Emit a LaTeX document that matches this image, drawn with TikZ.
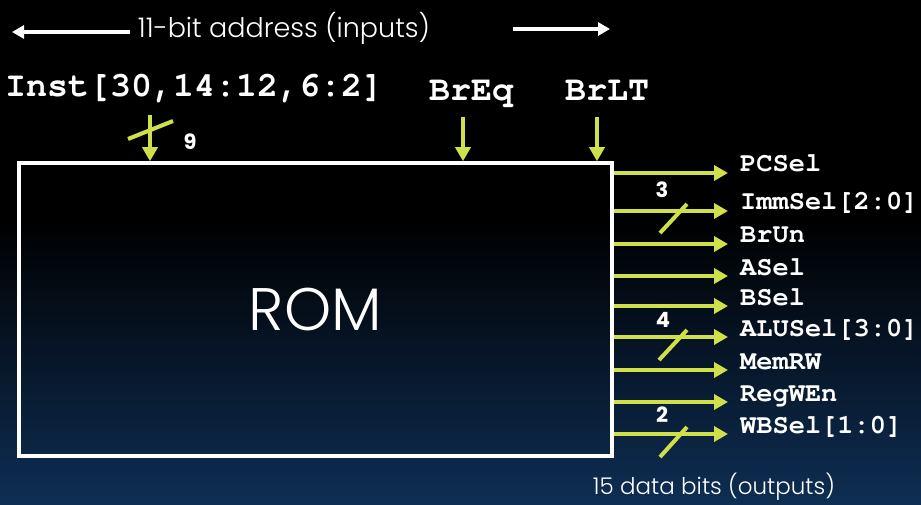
\documentclass[tikz,border=0pt]{standalone}
\usepackage{fontspec}
\setsansfont{Poppins}
\setmonofont{TeX Gyre Cursor}
\newfontfamily\lightsans{Poppins Light}
\usetikzlibrary{arrows.meta}

\definecolor{ctrl}{RGB}{208,224,74}
\definecolor{deepblue}{RGB}{14,46,84}

\begin{document}
\begin{tikzpicture}[x=1pt, y=-1pt,
    sig/.style={draw=ctrl,line width=4pt,-{Triangle[length=14pt,width=15pt]}},
    busmark/.style={draw=ctrl,line width=4pt},
    hint/.style={draw=white,line width=4pt,-{Triangle[length=12pt,width=13pt]}},
    port/.style={text=white,inner sep=0pt,anchor=base west,font=\ttfamily\bfseries\fontsize{27}{27}\selectfont},
    in port/.style={text=white,inner sep=0pt,font=\ttfamily\bfseries\fontsize{35}{35}\selectfont},
    bus num/.style={text=white,inner sep=0pt,font=\sffamily\bfseries\fontsize{21}{21}\selectfont},
    note/.style={text=white,inner sep=0pt,font=\lightsans\fontsize{27}{27}\selectfont}]

  \useasboundingbox (0,0) rectangle (921,505);
  \fill[black] (0,0) rectangle (921,505);
  \shade[top color=black,bottom color=deepblue] (0,220) rectangle (921,505);

  % the ROM block
  \node[draw=white,line width=3.5pt,minimum width=593pt,minimum height=293pt,
        text=white,font=\lightsans\fontsize{60}{60}\selectfont] (rom) at (315.5,309.5) {ROM};

  % address inputs
  \node[note] (addr) at (284,28) {11-bit address (inputs)};
  \node[in port,anchor=base west] (inst) at (5,97) {Inst[30,14:12,6:2]};
  \node[in port,anchor=base] (breq) at (471,101) {BrEq};
  \node[in port,anchor=base] (brlt) at (607,101) {BrLT};
  \coordinate (instin) at (150,115);
  \coordinate (breqin) at (463,117);
  \coordinate (brltin) at (597,117);
  \node[bus num] (nine) at (190,142) {9};

  % data outputs
  \coordinate (pcselend)  at (728,173);
  \coordinate (immselend) at (728,211);
  \coordinate (brunend)   at (728,244);
  \coordinate (aselend)   at (728,276);
  \coordinate (bselend)   at (728,306);
  \coordinate (aluselend) at (728,337);
  \coordinate (memrwend)  at (728,370);
  \coordinate (regwenend) at (728,402);
  \coordinate (wbselend)  at (728,434);

  \node[port] (pcsel)  at ([shift={(12,-1)}]pcselend)  {PCSel};
  \node[port] (immsel) at ([shift={(12,-1)}]immselend) {ImmSel[2:0]};
  \node[port] (brun)   at ([shift={(12,-1)}]brunend)   {BrUn};
  \node[port] (asel)   at ([shift={(12,-1)}]aselend)   {ASel};
  \node[port] (bsel)   at ([shift={(12,-1)}]bselend)   {BSel};
  \node[port] (alusel) at ([shift={(12,-1)}]aluselend) {ALUSel[3:0]};
  \node[port] (memrw)  at ([shift={(12,-1)}]memrwend)  {MemRW};
  \node[port] (regwen) at ([shift={(12,-1)}]regwenend) {RegWEn};
  \node[port] (wbsel)  at ([shift={(12,-1)}]wbselend)  {WBSel[1:0]};

  \node[bus num] (three) at (662,190) {3};
  \node[bus num] (four)  at (663,320) {4};
  \node[bus num] (two)   at (662,415) {2};
  \node[note,font=\lightsans\fontsize{23}{23}\selectfont] (data) at (714,487) {15 data bits (outputs)};

  % white hints along the top
  \draw[hint] (130,32) -- (12,32);
  \draw[hint] (513,29) -- (610,29);

  \path
    (instin) edge[sig] (instin |- rom.north)
    (breqin) edge[sig] (breqin |- rom.north)
    (brltin) edge[sig] (brltin |- rom.north)

    (pcselend -| rom.east)  edge[sig] (pcselend)
    (immselend -| rom.east) edge[sig] (immselend)
    (brunend -| rom.east)   edge[sig] (brunend)
    (aselend -| rom.east)   edge[sig] (aselend)
    (bselend -| rom.east)   edge[sig] (bselend)
    (aluselend -| rom.east) edge[sig] (aluselend)
    (memrwend -| rom.east)  edge[sig] (memrwend)
    (regwenend -| rom.east) edge[sig] (regwenend)
    (wbselend -| rom.east)  edge[sig] (wbselend)
  ;

  % bus width marks
  \draw[busmark] (128,139) -- (173,121);
  \draw[busmark] (660,233) -- (687,204);
  \draw[busmark] (659,360) -- (687,330);
  \draw[busmark] (660,457) -- (687,427);

\end{tikzpicture}
\end{document}
